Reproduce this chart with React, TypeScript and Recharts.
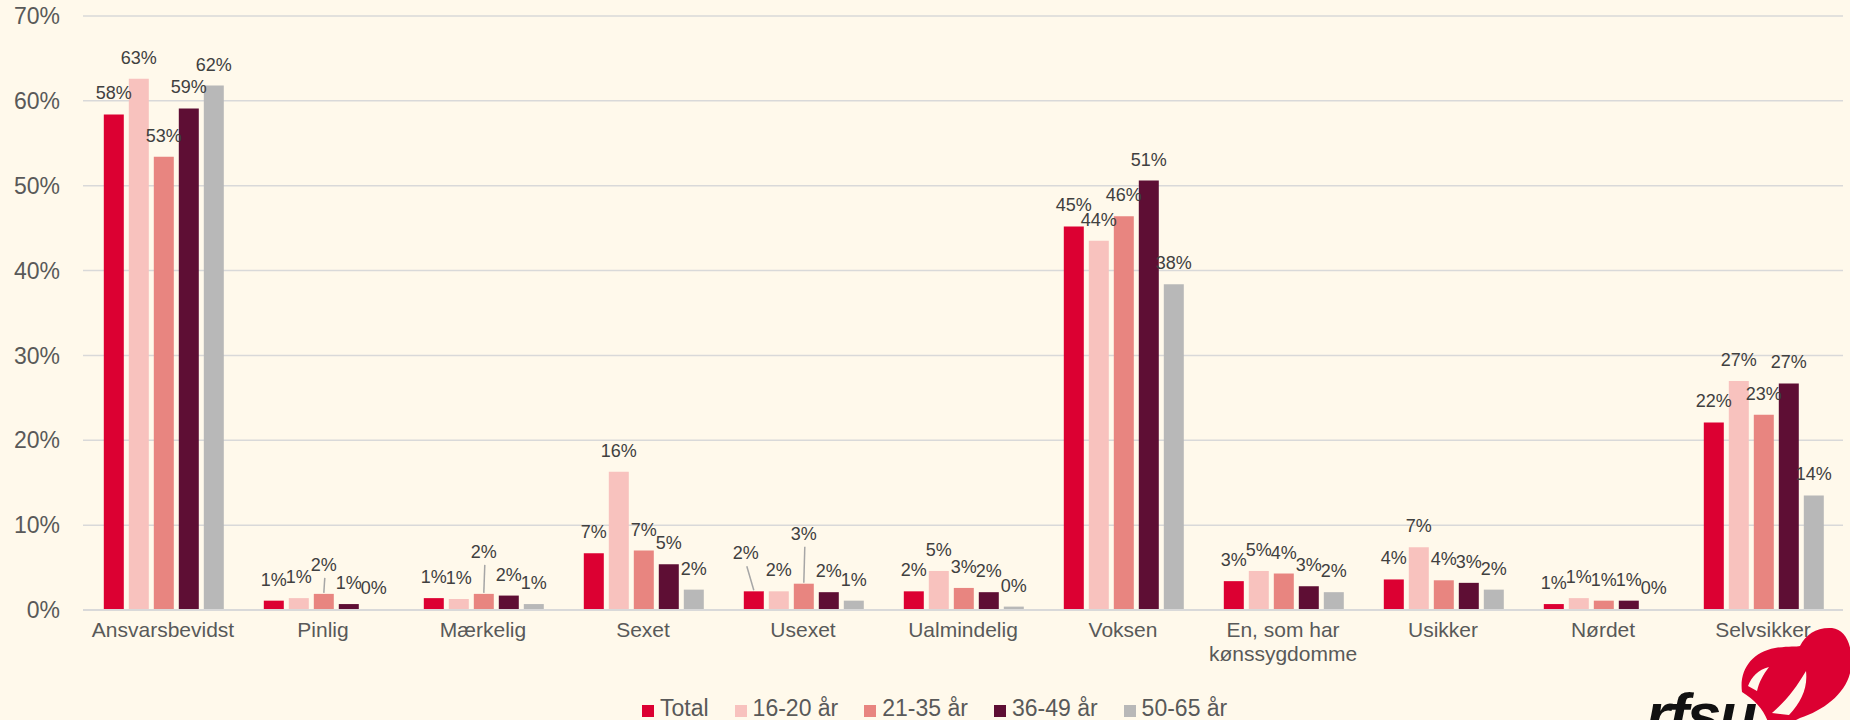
import { BarChart, Bar, XAxis, YAxis, CartesianGrid, LabelList, Text } from "recharts";

const categories = [
  "Ansvarsbevidst",
  "Pinlig",
  "Mærkelig",
  "Sexet",
  "Usexet",
  "Ualmindelig",
  "Voksen",
  "En, som har kønssygdomme",
  "Usikker",
  "Nørdet",
  "Selvsikker",
];

// share answering each word, in %
const total = [58.4, 1.1, 1.4, 6.7, 2.2, 2.2, 45.2, 3.4, 3.6, 0.7, 22.1];
const age16to20 = [62.6, 1.4, 1.3, 16.3, 2.2, 4.6, 43.5, 4.6, 7.4, 1.4, 27.0];
const age21to35 = [53.4, 1.9, 1.9, 7.0, 3.1, 2.6, 46.4, 4.3, 3.5, 1.1, 23.0];
const age36to49 = [59.1, 0.7, 1.7, 5.4, 2.1, 2.1, 50.6, 2.8, 3.2, 1.1, 26.7];
const age50to65 = [61.8, 0.1, 0.7, 2.4, 1.1, 0.4, 38.4, 2.1, 2.4, 0.1, 13.5];

const yTicks = [0, 10, 20, 30, 40, 50, 60, 70];

const series = [
  { key: "total", name: "Total", color: "#DC0032", values: total },
  { key: "a1620", name: "16-20 år", color: "#F8C2BE", values: age16to20 },
  { key: "a2135", name: "21-35 år", color: "#E88580", values: age21to35 },
  { key: "a3649", name: "36-49 år", color: "#5E0E34", values: age36to49 },
  { key: "a5065", name: "50-65 år", color: "#B8B8B8", values: age50to65 },
];

const data = categories.map((category, i) => {
  const row: Record<string, string | number> = { category };
  series.forEach((s) => {
    row[s.key] = s.values[i];
  });
  return row;
});

// labels that were pushed up (with a leader line) to avoid overlaps
const labelNudge: Record<string, Record<number, { up: number; dx: number }>> = {
  total: { 4: { up: 17, dx: -8 } },
  a2135: { 1: { up: 8, dx: 0 }, 2: { up: 21, dx: 0 }, 4: { up: 29, dx: 0 } },
};

const FONT = "'Liberation Sans', Arial, sans-serif";
const BG = "#FFF9EB";
const AXIS_TEXT = "#595959";

function ValueLabel(props: any) {
  const { seriesKey } = props;
  const vb = props.viewBox ?? props;
  const x = Number(vb.x ?? props.x);
  const y = Number(vb.y ?? props.y);
  const width = Number(vb.width ?? props.width);
  const value = Number(props.value);
  const index = props.index;
  const cx = x + width / 2;
  const nudge = labelNudge[seriesKey]?.[index];
  const up = nudge?.up ?? 0;
  const dx = nudge?.dx ?? 0;
  const baseY = y - 15 - up;
  return (
    <g>
      {nudge && (
        <line x1={cx + dx + 1} y1={baseY + 7} x2={cx} y2={y - 1} stroke="#A6A6A6" strokeWidth={1.5} />
      )}
      <text x={cx + dx} y={baseY} textAnchor="middle" fontSize={18} fill="#404040" fontFamily={FONT}>
        {Math.round(value)}%
      </text>
    </g>
  );
}

function CategoryTick({ x, y, payload }: any) {
  return (
    <Text
      x={x}
      y={y + 10}
      width={155}
      textAnchor="middle"
      verticalAnchor="start"
      lineHeight={24}
      fontSize={21}
      fill={AXIS_TEXT}
      fontFamily={FONT}
    >
      {payload.value}
    </Text>
  );
}

function Logo() {
  return (
    <svg width={1850} height={720} style={{ position: "absolute", left: 0, top: 0, pointerEvents: "none" }}>
      <path
        d="M 1742 692 C 1739 670, 1752 652, 1775 648 C 1788 646, 1796 647, 1800 646 C 1806 634, 1817 627, 1832 628 C 1846 630, 1853 645, 1851 668 C 1848 692, 1825 710, 1800 718 L 1792 722 L 1768 722 C 1764 710, 1755 700, 1742 692 Z"
        fill="#DC0032"
      />
      <path
        d="M 1748 686 C 1752 676, 1758 670, 1769 667 C 1763 675, 1759 682, 1757 691 Z"
        fill={BG}
      />
      <path
        d="M 1772 713 C 1786 701, 1796 688, 1806 671 C 1808 688, 1801 702, 1789 715 Z"
        fill={BG}
      />
      <text x={1646} y={736} fontSize={62} fontWeight={700} fontStyle="italic" fill="#111" fontFamily={FONT} letterSpacing={-2}>
        rfsu
      </text>
    </svg>
  );
}

export default function App() {
  return (
    <div
      style={{
        position: "absolute",
        left: 0,
        top: 0,
        width: 1850,
        height: 720,
        background: BG,
        fontFamily: FONT,
        overflow: "hidden",
      }}
    >
      <BarChart
        width={1850}
        height={720}
        data={data}
        margin={{ top: 16, right: 7, bottom: 0, left: 0 }}
        barCategoryGap="13%"
        barGap={5}
      >
        <CartesianGrid vertical={false} stroke="#D9D9D9" strokeWidth={1.5} />
        <XAxis
          dataKey="category"
          height={110}
          interval={0}
          tickLine={false}
          tickSize={0}
          axisLine={{ stroke: "#D9D9D9", strokeWidth: 2 }}
          tick={<CategoryTick />}
        />
        <YAxis
          width={83}
          domain={[0, 70]}
          ticks={yTicks}
          interval={0}
          axisLine={false}
          tickLine={false}
          tickSize={0}
          tickMargin={23}
          tickFormatter={(v) => `${v}%`}
          tick={{ fontSize: 23, fill: AXIS_TEXT, fontFamily: FONT }}
        />
        {series.map((s) => (
          <Bar key={s.key} dataKey={s.key} name={s.name} fill={s.color} isAnimationActive={false}>
            <LabelList dataKey={s.key} content={(p: any) => <ValueLabel {...p} seriesKey={s.key} />} />
          </Bar>
        ))}
      </BarChart>

      <div
        style={{
          position: "absolute",
          left: 642,
          top: 697,
          display: "flex",
          fontSize: 23,
          lineHeight: "23px",
          color: AXIS_TEXT,
          whiteSpace: "nowrap",
        }}
      >
        {series.map((s) => (
          <div key={s.key} style={{ display: "flex", alignItems: "flex-start", marginRight: 26 }}>
            <span style={{ width: 12, height: 12, background: s.color, marginTop: 8, marginRight: 6 }} />
            <span>{s.name}</span>
          </div>
        ))}
      </div>

      <Logo />
    </div>
  );
}
